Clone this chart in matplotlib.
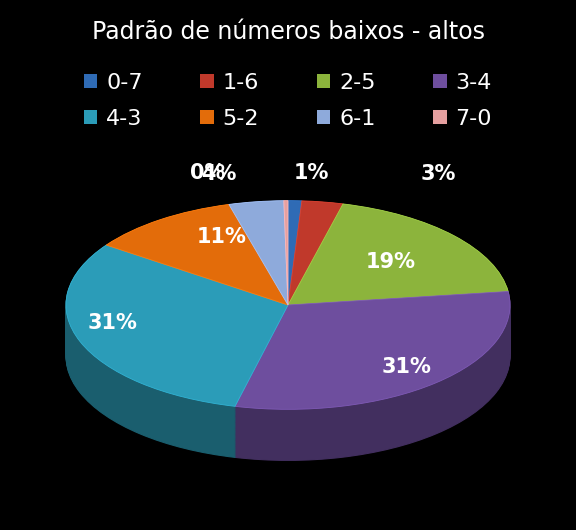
import numpy as np
import matplotlib
matplotlib.use("Agg")
import matplotlib.pyplot as plt
from matplotlib.patches import Wedge
from matplotlib.transforms import Affine2D
from matplotlib.colors import to_rgb

categories = ["0-7", "1-6", "2-5", "3-4", "4-3", "5-2", "6-1", "7-0"]
values = [1, 3, 19, 31, 31, 11, 4, 0.3]
labels = ["1%", "3%", "19%", "31%", "31%", "11%", "4%", "0%"]
colors = ["#2f6bb5", "#c0392b", "#8cb43c", "#6e4e9e", "#2b9cb8", "#e36c0a", "#8eaadb", "#e6a0a0"]

fig = plt.figure(figsize=(5.76, 5.3), dpi=100, facecolor="black")
ax = fig.add_axes([0, 0, 1, 1])
ax.set_facecolor("black")
ax.set_xlim(-288/222, 288/222)
ax.set_ylim(-225/222, 305/222)
ax.axis("off")

ry = 0.47
depth = 0.23
tot = sum(values)
angles = [90]
for v in values:
    angles.append(angles[-1] - 360 * v / tot)

def draw(offset, face):
    tr = Affine2D().scale(1, ry).translate(0, -offset) + ax.transData
    for i, c in enumerate(colors):
        a1, a2 = angles[i+1], angles[i]
        col = to_rgb(c) if face else tuple(0.6 * x for x in to_rgb(c))
        w = Wedge((0, 0), 1, a1, a2, facecolor=col,
                  edgecolor=(tuple(min(1, x*1.15) for x in to_rgb(c)) if face else col),
                  linewidth=0.6 if face else 0.8, transform=tr)
        ax.add_patch(w)

for off in np.linspace(depth, 0.002, 60):
    draw(off, False)
draw(0, True)

# label offsets (in data units) relative to radial anchor
small_dx = {0: 0.07, 1: 0.5, 6: -0.15, 7: -0.35}
for i, lab in enumerate(labels):
    mid = np.radians((angles[i] + angles[i+1]) / 2)
    v = values[i]
    if v < 5:
        x = 1.12*np.cos(mid) + small_dx[i]
        y = 1.12*np.sin(mid)*ry + 0.07
    else:
        r = 0.8 if v > 20 else 0.62
        x = r*np.cos(mid); y = r*np.sin(mid)*ry
        if i == 4:
            x = -0.79; y = -0.08
        if i == 5:
            x += 0.06; y += 0.07
    ax.text(x, y, lab, color="white", fontsize=15, fontweight="bold",
            ha="center", va="center")

fig.text(0.5, 0.94, "Padrão de números baixos - altos", color="white",
         fontsize=17, ha="center", va="center")
order = [0, 4, 1, 5, 2, 6, 3, 7]
handles = [plt.Rectangle((0, 0), 1, 1, facecolor=colors[k]) for k in order]
fig.legend(handles, [categories[k] for k in order], ncol=4, loc="upper center",
           bbox_to_anchor=(0.5, 0.9), frameon=False, labelcolor="white",
           fontsize=16, handlelength=0.6, handleheight=0.6,
           columnspacing=2.6, handletextpad=0.4, labelspacing=0.7)
fig.savefig("out.png", dpi=100, facecolor="black")
